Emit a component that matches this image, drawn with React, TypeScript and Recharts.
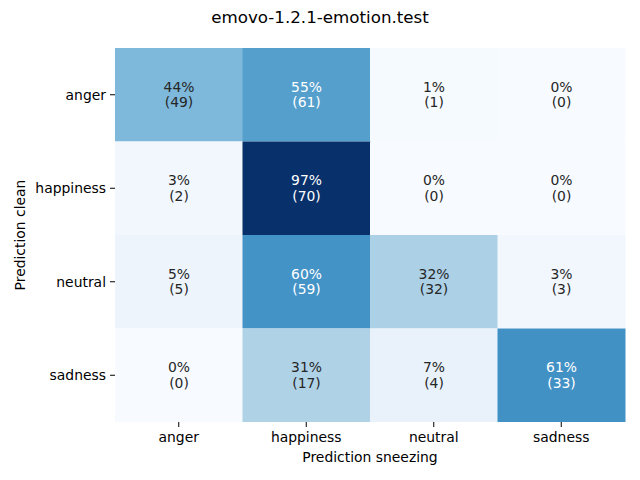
import { BarChart, Bar, Cell, XAxis, YAxis, LabelList, Label } from "recharts";

const TITLE = "emovo-1.2.1-emotion.test";
const CLASSES = ["anger", "happiness", "neutral", "sadness"];

// rows = clean prediction, columns = sneezing prediction
const PCT_ANGER = [44, 55, 1, 0];
const PCT_HAPPINESS = [3, 97, 0, 0];
const PCT_NEUTRAL = [5, 60, 32, 3];
const PCT_SADNESS = [0, 31, 7, 61];

const CNT_ANGER = [49, 61, 1, 0];
const CNT_HAPPINESS = [2, 70, 0, 0];
const CNT_NEUTRAL = [5, 59, 32, 3];
const CNT_SADNESS = [0, 17, 4, 33];

const PCT = [PCT_ANGER, PCT_HAPPINESS, PCT_NEUTRAL, PCT_SADNESS];
const CNT = [CNT_ANGER, CNT_HAPPINESS, CNT_NEUTRAL, CNT_SADNESS];

const FONT = "'DejaVu Sans', sans-serif";

const BLUES = [
  [247, 251, 255],
  [222, 235, 247],
  [198, 219, 239],
  [158, 202, 225],
  [107, 174, 214],
  [66, 146, 198],
  [33, 113, 181],
  [8, 81, 156],
  [8, 48, 107],
];

function blues(t: number) {
  const v = Math.max(0, Math.min(1, t)) * (BLUES.length - 1);
  const i = Math.min(Math.floor(v), BLUES.length - 2);
  const f = v - i;
  const c = BLUES[i].map((a, k) => Math.round(a + (BLUES[i + 1][k] - a) * f));
  return `rgb(${c[0]},${c[1]},${c[2]})`;
}

const VMAX = 97;

// one stacked segment per row, every row has height 1
const data = CLASSES.map((name) => ({ name, r0: 1, r1: 1, r2: 1, r3: 1 }));

const cellLabel = (row: number) => (props: any) => {
  const { x, y, width, height, index } = props;
  const cx = x + width / 2;
  const cy = y + height / 2;
  const p = PCT[row][index];
  const fill = p > 50 ? "#ffffff" : "#262626";
  return (
    <g>
      <text x={cx} y={cy - 3} textAnchor="middle" fill={fill} fontSize={13.9} fontFamily={FONT}>
        {`${p}%`}
      </text>
      <text x={cx} y={cy + 12.5} textAnchor="middle" fill={fill} fontSize={13.9} fontFamily={FONT}>
        {`(${CNT[row][index]})`}
      </text>
    </g>
  );
};

export default function App() {
  return (
    <div style={{ position: "absolute", left: 0, top: 0, width: 640, height: 480, background: "#fff" }}>
      <div
        style={{
          position: "absolute",
          left: 0,
          top: 7,
          width: 640,
          textAlign: "center",
          fontFamily: FONT,
          fontSize: 16.7,
          color: "#000",
        }}
      >
        {TITLE}
      </div>
      <BarChart
        width={640}
        height={480}
        data={data}
        margin={{ top: 48, right: 15, left: 0, bottom: 0 }}
        barCategoryGap={0}
        barGap={0}
      >
        <XAxis
          dataKey="name"
          height={58}
          tickSize={5}
          tickMargin={5}
          axisLine={false}
          tick={{ fill: "#000", fontSize: 13.9, fontFamily: FONT }}
          tickLine={{ stroke: "#000" }}
        >
          <Label
            content={() => (
              <text x={370} y={462} textAnchor="middle" fontSize={13.9} fontFamily={FONT} fill="#000">
                Prediction sneezing
              </text>
            )}
          />
        </XAxis>
        <YAxis
          type="number"
          domain={[0, 4]}
          reversed
          width={115}
          ticks={[0.5, 1.5, 2.5, 3.5]}
          tickFormatter={(v: number) => CLASSES[Math.floor(v)]}
          tickSize={5}
          tickMargin={4}
          axisLine={false}
          interval={0}
          tick={{ fill: "#000", fontSize: 13.9, fontFamily: FONT }}
          tickLine={{ stroke: "#000" }}
        >
          <Label
            content={() => (
              <text
                x={25}
                y={235}
                transform="rotate(-90 25 235)"
                textAnchor="middle"
                fontSize={13.9}
                fontFamily={FONT}
                fill="#000"
              >
                Prediction clean
              </text>
            )}
          />
        </YAxis>
        {[0, 1, 2, 3].map((row) => (
          <Bar key={row} dataKey={`r${row}`} stackId="a" isAnimationActive={false}>
            {CLASSES.map((_, col) => (
              <Cell key={col} fill={blues(PCT[row][col] / VMAX)} />
            ))}
            <LabelList content={cellLabel(row)} />
          </Bar>
        ))}
      </BarChart>
    </div>
  );
}
